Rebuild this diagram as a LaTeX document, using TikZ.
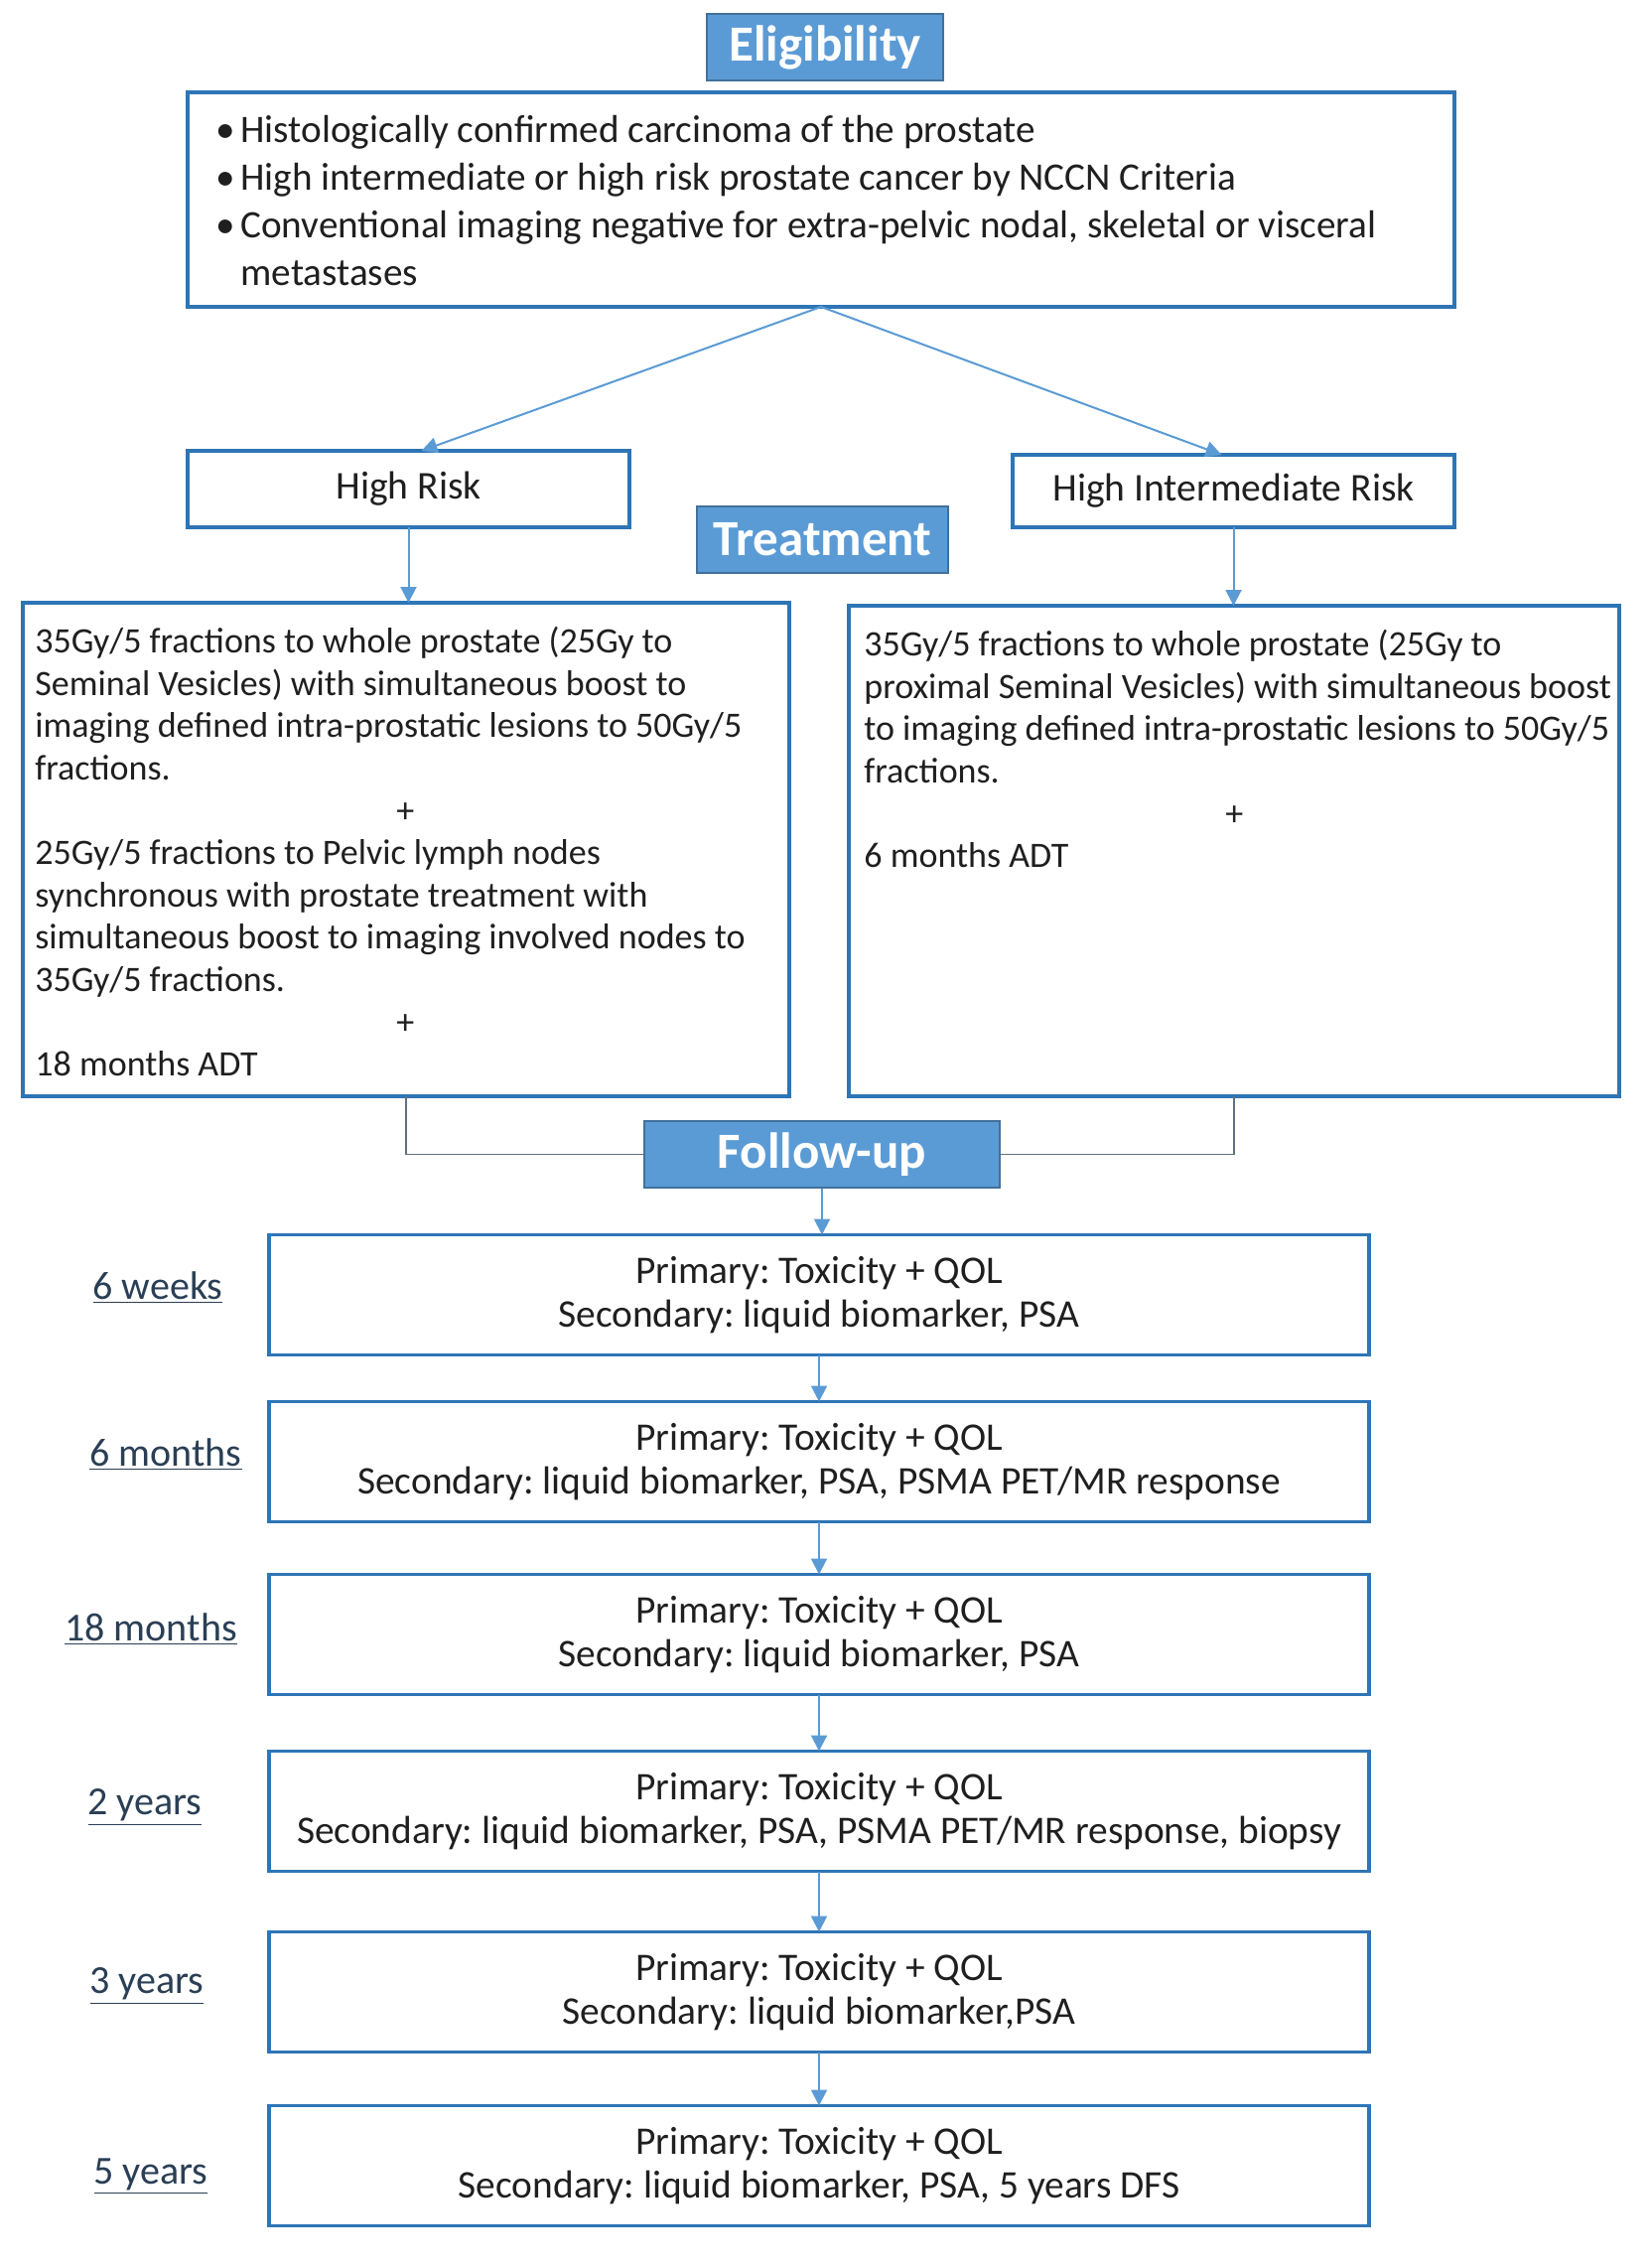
\documentclass[tikz,border=0pt]{standalone}
\usepackage{fontspec}
\setmainfont{Carlito}
\usetikzlibrary{arrows.meta}
\definecolor{boxblue}{HTML}{2E75B6}
\definecolor{hdrblue}{HTML}{5B9BD5}
\definecolor{hdrline}{HTML}{41719C}
\definecolor{arrblue}{HTML}{5B9BD5}
\definecolor{elbowgrey}{HTML}{5F7080}
\definecolor{lblcol}{HTML}{2A3F55}
\frenchspacing
\begin{document}
\begin{tikzpicture}[x=0.5pt,y=-0.5pt,
  box/.style={draw=boxblue, line width=1.7pt, fill=white, inner sep=0pt, outer sep=0pt},
  hdr/.style={draw=hdrline, line width=0.8pt, fill=hdrblue, text=white, font=\bfseries\fontsize{25.5}{28}\selectfont, inner sep=0pt},
  arr/.style={draw=arrblue, line width=1pt, -{Triangle[width=8pt,length=8pt]}},
  elbow/.style={draw=elbowgrey, line width=0.9pt},
  body/.style={font=\fontsize{18}{21.3}\selectfont, inner sep=0pt, text=black!88},
  riskfont/.style={font=\fontsize{19.8}{22}\selectfont, text=black!88},
  eligtext/.style={font=\fontsize{19.6}{24}\selectfont, inner sep=0pt, text=black!88},
  fubox/.style={box, font=\fontsize{19.7}{21.8}\selectfont, text=black!88, align=center, minimum width=554pt, minimum height=60.5pt},
  lbl/.style={font=\fontsize{20}{22}\selectfont, text=lblcol, inner sep=0pt}
]
\fill[white] (0,0) rectangle (1663,2284);
\useasboundingbox (0,0) rectangle (1663,2284);

% Eligibility
\node[hdr, minimum width=119pt, minimum height=33.5pt] (eh) at (831,47.5) {Eligibility};
\node[box, minimum width=638pt, minimum height=108pt] (elig) at (827,201) {};
\node[eligtext, anchor=north west, align=left] (eligtxt) at ([xshift=14pt,yshift=-11.5pt]elig.north west)
 {\makebox[12.5pt][l]{\textbullet}Histologically confirmed carcinoma of the prostate\\
  \makebox[12.5pt][l]{\textbullet}High intermediate or high risk prostate cancer by NCCN Criteria\\
  \makebox[12.5pt][l]{\textbullet}Conventional imaging negative for extra-pelvic nodal, skeletal or visceral\\
  \makebox[12.5pt][l]{}metastases};

% Risk groups
\node[box, riskfont, minimum width=222.5pt, minimum height=38.5pt] (hr) at (411.5,492.5) {High Risk};
\node[box, riskfont, minimum width=222.5pt, minimum height=36.5pt] (hir) at (1242.5,494.5) {High Intermediate Risk};
\node[hdr, minimum width=126.5pt, minimum height=33.5pt] (th) at (828.5,543.5) {Treatment};

% Treatment boxes
\node[box, minimum width=386pt, minimum height=248.5pt] (tl) at (409,855.5) {};
\node[box, minimum width=388pt, minimum height=247pt] (tr) at (1243,857) {};
\node[body, anchor=north west, align=left] (tltxt) at ([xshift=6pt,yshift=-12pt]tl.north west)
 {35Gy/5 fractions to whole prostate (25Gy to\\
  Seminal Vesicles) with simultaneous boost to\\
  imaging defined intra-prostatic lesions to 50Gy/5\\
  fractions.\\
  \hspace*{182pt}+\\
  25Gy/5 fractions to Pelvic lymph nodes\\
  synchronous with prostate treatment with\\
  simultaneous boost to imaging involved nodes to\\
  35Gy/5 fractions.\\
  \hspace*{182pt}+\\
  18 months ADT};
\node[body, anchor=north west, align=left] (trtxt) at ([xshift=7.5pt,yshift=-12pt]tr.north west)
 {35Gy/5 fractions to whole prostate (25Gy to\\
  proximal Seminal Vesicles) with simultaneous boost\\
  to imaging defined intra-prostatic lesions to 50Gy/5\\
  fractions.\\
  \hspace*{182pt}+\\
  6 months ADT};

% Follow-up
\node[hdr, minimum width=179pt, minimum height=33.5pt] (fu) at (828,1162.5) {Follow-up};
\node[fubox] (b1) at (825,1304) {Primary: Toxicity + QOL\\Secondary: liquid biomarker, PSA};
\node[fubox] (b2) at (825,1472) {Primary: Toxicity + QOL\\Secondary: liquid biomarker, PSA, PSMA PET/MR response};
\node[fubox] (b3) at (825,1646) {Primary: Toxicity + QOL\\Secondary: liquid biomarker, PSA};
\node[fubox] (b4) at (825,1824) {Primary: Toxicity + QOL\\Secondary: liquid biomarker, PSA, PSMA PET/MR response, biopsy};
\node[fubox] (b5) at (825,2006) {Primary: Toxicity + QOL\\Secondary: liquid biomarker,PSA};
\node[fubox] (b6) at (825,2181) {Primary: Toxicity + QOL\\Secondary: liquid biomarker, PSA, 5 years DFS};

\node[lbl] (l1) at (159,1297) {\underline{6 weeks}};
\node[lbl] (l2) at (167,1465) {\underline{6 months}};
\node[lbl] (l3) at (152,1641) {\underline{18 months}};
\node[lbl] (l4) at (146,1820) {\underline{2 years}};
\node[lbl] (l5) at (148,2000) {\underline{3 years}};
\node[lbl] (l6) at (152,2192) {\underline{5 years}};

% Connectors
\draw[arr] (elig.south) -- ([xshift=6.5pt]hr.north);
\draw[arr] (elig.south) -- ([xshift=-6pt]hir.north);
\draw[arr] (hr.south) -- (hr.south |- tl.north);
\draw[arr] (hir.south) -- (hir.south |- tr.north);
\draw[elbow] (tl.south) |- (fu.west);
\draw[elbow] (tr.south) |- (fu.east);
\draw[arr] (fu.south) -- (fu.south |- b1.north);
\draw[arr] (b1.south) -- (b2.north);
\draw[arr] (b2.south) -- (b3.north);
\draw[arr] (b3.south) -- (b4.north);
\draw[arr] (b4.south) -- (b5.north);
\draw[arr] (b5.south) -- (b6.north);
\end{tikzpicture}
\end{document}
